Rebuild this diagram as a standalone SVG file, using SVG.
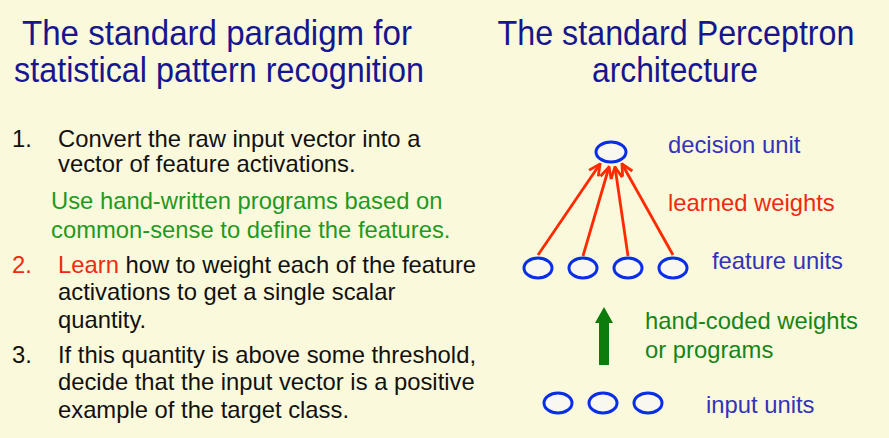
<svg xmlns="http://www.w3.org/2000/svg" width="889" height="438" viewBox="0 0 889 438">
<style>
.title{font-family:"Liberation Sans",Arial,sans-serif;font-size:35px;fill:#161690;}
.body{font-family:"Liberation Sans",Arial,sans-serif;font-size:23.8px;fill:#111;}
.green{fill:#1f9a1f;}
.red{fill:#ee2a10;}
.lab{font-family:"Liberation Sans",Arial,sans-serif;font-size:23.8px;}
.blue{fill:#3232bb;}
.dgreen{fill:#168516;}
.unit{fill:#f8f8ee;stroke:#0a2ee6;stroke-width:3;}
.w{stroke:#ff2a00;stroke-width:2.8;fill:none;marker-end:url(#ah);}
</style>
<defs>
<marker id="ah" viewBox="0 0 10 10" refX="9" refY="5" markerWidth="5" markerHeight="5" orient="auto" markerUnits="strokeWidth">
<path d="M1,1 L9,5 L1,9" fill="none" stroke="#ff2a00" stroke-width="2"/>
</marker>
</defs>
<rect width="889" height="438" fill="#fbf9dc"/>
<g id="titles">
<text class="title" x="217" y="45" text-anchor="middle" textLength="390" lengthAdjust="spacingAndGlyphs">The standard paradigm for</text>
<text class="title" x="219" y="82" text-anchor="middle" textLength="410" lengthAdjust="spacingAndGlyphs">statistical pattern recognition</text>
<text class="title" x="676" y="45" text-anchor="middle" textLength="357" lengthAdjust="spacingAndGlyphs">The standard Perceptron</text>
<text class="title" x="675" y="82" text-anchor="middle" textLength="166" lengthAdjust="spacingAndGlyphs">architecture</text>
</g>
<g id="list">
<text class="body" x="12" y="147">1.</text>
<text class="body" x="58" y="147">Convert the raw input vector into a</text>
<text class="body" x="58" y="172">vector of feature activations.</text>
<text class="body green" x="51" y="209">Use hand-written programs based on</text>
<text class="body green" x="51" y="238">common-sense to define the features.</text>
<text class="body red" x="12" y="273">2.</text>
<text class="body" x="58" y="273"><tspan class="red">Learn</tspan> how to weight each of the feature</text>
<text class="body" x="58" y="300">activations to get a single scalar</text>
<text class="body" x="58" y="328">quantity.</text>
<text class="body" x="12" y="363">3.</text>
<text class="body" x="58" y="363">If this quantity is above some threshold,</text>
<text class="body" x="58" y="390">decide that the input vector is a positive</text>
<text class="body" x="58" y="418">example of the target class.</text>
</g>
<g id="connectors">
<line class="w" x1="538" y1="255" x2="600" y2="164"/>
<line class="w" x1="583" y1="256" x2="609" y2="167"/>
<line class="w" x1="628" y1="256" x2="615" y2="167"/>
<line class="w" x1="673" y1="255" x2="622" y2="164"/>
<g id="green-arrow">
<rect x="599" y="322" width="10" height="43" fill="#0c7d0c"/>
<polygon points="595,323 613,323 604,307" fill="#0c7d0c"/>
</g>
</g>
<g id="decision-unit"><ellipse class="unit" cx="611" cy="152" rx="15" ry="10"/></g>
<g id="feature-units">
<ellipse class="unit" cx="538" cy="268" rx="14" ry="10"/>
<ellipse class="unit" cx="583" cy="268" rx="14" ry="10"/>
<ellipse class="unit" cx="628" cy="268" rx="14" ry="10"/>
<ellipse class="unit" cx="673" cy="268" rx="14" ry="10"/>
</g>
<g id="input-units">
<ellipse class="unit" cx="558" cy="403" rx="14" ry="10"/>
<ellipse class="unit" cx="603" cy="403" rx="14" ry="10"/>
<ellipse class="unit" cx="648" cy="403" rx="14" ry="10"/>
</g>
<g id="labels">
<text class="lab blue" x="668" y="153">decision unit</text>
<text class="lab red" x="668" y="211">learned weights</text>
<text class="lab blue" x="712" y="269">feature units</text>
<text class="lab dgreen" x="645" y="329">hand-coded weights</text>
<text class="lab dgreen" x="645" y="358">or programs</text>
<text class="lab blue" x="706" y="413">input units</text>
</g>
</svg>
